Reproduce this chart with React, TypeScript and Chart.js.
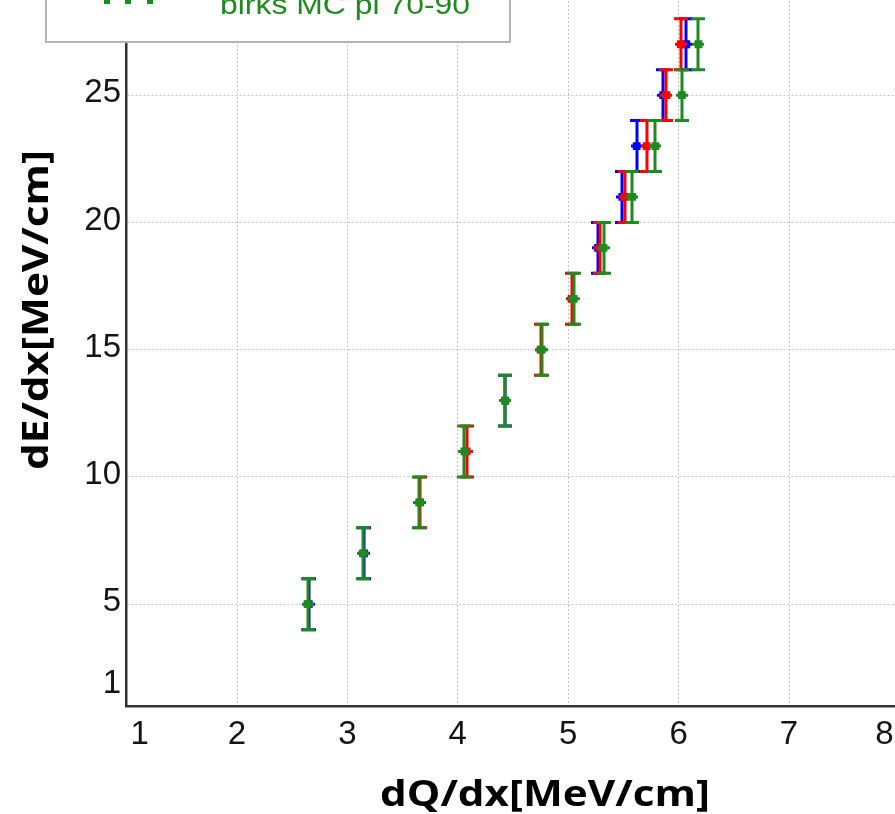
import React, { useEffect, useRef } from 'react';
import { Chart, registerables } from 'chart.js';

Chart.register(...registerables);

// ---- data ----
const BLUE_X = [2.65, 3.15, 4.43, 5.27, 5.49, 5.62, 5.86, 6.07];
const BLUE_Y = [5, 7, 13, 19, 21, 23, 25, 27];
const RED_X = [3.66, 4.08, 4.75, 5.03, 5.29, 5.51, 5.71, 5.89, 6.02];
const RED_Y = [9, 11, 15, 17, 19, 21, 23, 25, 27];
const GREEN_X = [2.64, 3.14, 3.65, 4.06, 4.43, 4.76, 5.05, 5.32, 5.58, 5.79, 6.03, 6.18];
const GREEN_Y = [5, 7, 9, 11, 13, 15, 17, 19, 21, 23, 25, 27];
const Y_ERROR = 1;
const X_TICKS = [1, 2, 3, 4, 5, 6, 7, 8];
const Y_TICKS = [1, 5, 10, 15, 20, 25];
const X_TITLE = 'dQ/dx[MeV/cm]';
const Y_TITLE = 'dE/dx[MeV/cm]';
const GREEN_LABEL = 'birks MC pi 70-90';

const BLUE = '#0000ff';
const RED = '#ff0000';
const GREEN = '#1f8a1f';

const OFF = 100; // canvas starts 100px above the visible window
const CW = 930;
const CH = 914;

const toPoints = (xs: number[], ys: number[]) => xs.map((x, i) => ({ x, y: ys[i] }));

function fitText(
  ctx: CanvasRenderingContext2D,
  text: string,
  x: number,
  y: number,
  width: number,
  font: string,
  color: string,
  align: 'left' | 'center' | 'right',
  rotate = 0,
  baseline: CanvasTextBaseline = 'alphabetic'
) {
  ctx.save();
  ctx.font = font;
  const w = ctx.measureText(text).width;
  const s = width / w;
  ctx.translate(x, y);
  if (rotate) ctx.rotate(rotate);
  ctx.scale(s, 1);
  ctx.fillStyle = color;
  ctx.textAlign = align;
  ctx.textBaseline = baseline;
  ctx.fillText(text, 0, 0);
  ctx.restore();
}

const errorBarPlugin = {
  id: 'errorBars',
  beforeDatasetDraw(chart: any, args: any) {
    const ds = chart.data.datasets[args.index];
    const xs = chart.scales.x;
    const ys = chart.scales.y;
    const ctx = chart.ctx as CanvasRenderingContext2D;
    ctx.save();
    ctx.strokeStyle = ds.borderColor;
    ctx.lineWidth = 3;
    for (const p of ds.data) {
      const px = Math.round(xs.getPixelForValue(p.x));
      const yt = ys.getPixelForValue(p.y + Y_ERROR);
      const yb = ys.getPixelForValue(p.y - Y_ERROR);
      const yc = ys.getPixelForValue(p.y);
      ctx.beginPath();
      ctx.moveTo(px, yt);
      ctx.lineTo(px, yb);
      ctx.moveTo(px - 7, yt);
      ctx.lineTo(px + 7, yt);
      ctx.moveTo(px - 7, yb);
      ctx.lineTo(px + 7, yb);
      ctx.moveTo(px - 6, yc);
      ctx.lineTo(px + 6, yc);
      ctx.stroke();
    }
    ctx.restore();
  },
};

const textPlugin = {
  id: 'texts',
  afterDraw(chart: any) {
    const ctx = chart.ctx as CanvasRenderingContext2D;
    const xs = chart.scales.x;
    const ys = chart.scales.y;
    const tickFont = '33px "Liberation Sans", Arial, sans-serif';
    const tickColor = '#141414';
    ctx.save();
    ctx.font = tickFont;
    ctx.fillStyle = tickColor;
    // y tick labels
    ctx.textAlign = 'right';
    ctx.textBaseline = 'middle';
    for (const v of Y_TICKS) {
      let py = ys.getPixelForValue(v) - 2;
      if (v === Y_TICKS[0]) py -= 20;
      ctx.fillText(String(v), 121, py);
    }
    // x tick labels
    ctx.textAlign = 'center';
    for (const v of X_TICKS) {
      let px = xs.getPixelForValue(v);
      if (v === X_TICKS[0]) px += 13;
      if (v === X_TICKS[X_TICKS.length - 1]) px -= 15;
      ctx.fillText(String(v), px, 735 + OFF);
    }
    ctx.restore();

    // axis titles
    const titleFont = 'bold 36px "Open Sans", "Noto Sans", sans-serif';
    fitText(ctx, X_TITLE, 545, 806 + OFF, 330, titleFont, '#000', 'center');
    fitText(ctx, Y_TITLE, 48, 310 + OFF, 320, titleFont, '#000', 'center', -Math.PI / 2);

    // legend box (overlaid on the plot, cropped at the top)
    ctx.save();
    ctx.fillStyle = '#ffffff';
    ctx.fillRect(46, -80 + OFF, 464, 122);
    ctx.strokeStyle = '#b4b4b4';
    ctx.lineWidth = 2;
    ctx.strokeRect(46, -80 + OFF, 464, 122);
    // green legend marker (error-bar glyph)
    ctx.strokeStyle = GREEN;
    ctx.lineWidth = 6;
    ctx.beginPath();
    ctx.moveTo(107, -20 + OFF);
    ctx.lineTo(107, 4 + OFF);
    ctx.moveTo(128, -20 + OFF);
    ctx.lineTo(128, 4 + OFF);
    ctx.moveTo(150, -20 + OFF);
    ctx.lineTo(150, 4 + OFF);
    ctx.stroke();
    ctx.restore();
    fitText(ctx, GREEN_LABEL, 220, 14 + OFF, 250, '28px "Liberation Sans", Arial, sans-serif', GREEN, 'left');
  },
};

export default function App() {
  const ref = useRef<HTMLCanvasElement | null>(null);
  useEffect(() => {
    if (!ref.current) return;
    const chart = new Chart(ref.current, {
      type: 'scatter',
      data: {
        datasets: [
          {
            label: 'blue',
            data: toPoints(BLUE_X, BLUE_Y),
            borderColor: BLUE,
            backgroundColor: BLUE,
            pointStyle: 'rect',
            pointRadius: 5.5,
            pointBorderWidth: 0,
            order: 2,
          },
          {
            label: 'red',
            data: toPoints(RED_X, RED_Y),
            borderColor: RED,
            backgroundColor: RED,
            pointStyle: 'rect',
            pointRadius: 5.5,
            pointBorderWidth: 0,
            order: 1,
          },
          {
            label: GREEN_LABEL,
            data: toPoints(GREEN_X, GREEN_Y),
            borderColor: GREEN,
            backgroundColor: GREEN,
            pointStyle: 'rect',
            pointRadius: 5.5,
            pointBorderWidth: 0,
            order: 0,
          },
        ],
      },
      options: {
        responsive: false,
        animation: false,
        layout: { padding: { left: 126.6, right: 30.6, top: 17, bottom: 108 } },
        plugins: { legend: { display: false }, tooltip: { enabled: false } },
        scales: {
          x: {
            type: 'linear',
            min: 1,
            max: 8,
            ticks: { display: false, stepSize: 1 },
            grid: { color: '#c4c4c4', lineWidth: 1, drawTicks: false },
            border: { display: true, color: '#333333', width: 2.5, dash: [2, 2] },
          },
          y: {
            type: 'linear',
            min: 1,
            max: 32,
            afterBuildTicks: (scale: any) => {
              scale.ticks = [...Y_TICKS, 30].map((v) => ({ value: v }));
            },
            ticks: { display: false },
            grid: { color: '#c4c4c4', lineWidth: 1, drawTicks: false },
            border: { display: true, color: '#333333', width: 2.5, dash: [2, 2] },
          },
        },
      },
      plugins: [errorBarPlugin, textPlugin],
    });
    return () => chart.destroy();
  }, []);
  return (
    <div
      style={{
        position: 'fixed',
        left: 0,
        top: 0,
        width: 895,
        height: 814,
        overflow: 'hidden',
        background: '#ffffff',
      }}
    >
      <canvas ref={ref} width={CW} height={CH} style={{ position: 'absolute', left: 0, top: -OFF }} />
    </div>
  );
}
